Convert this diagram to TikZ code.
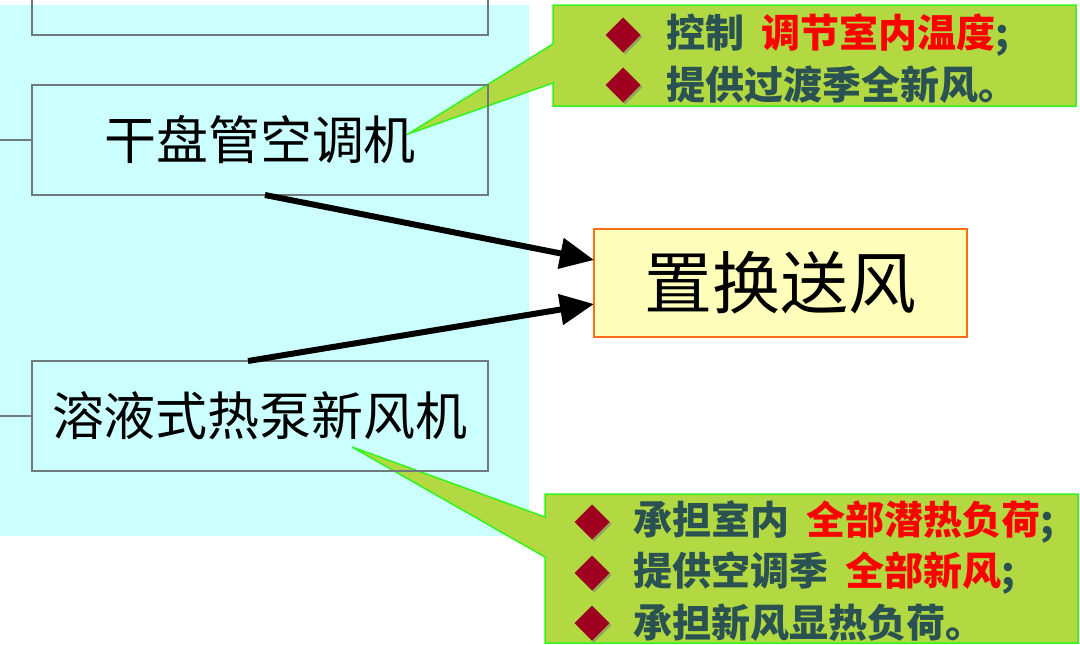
\documentclass[tikz,border=0pt]{standalone}
\usepackage{fontspec}
\usepackage{xcolor}
\newfontfamily\cjk{Noto Sans CJK SC}
\usetikzlibrary{shapes.geometric,arrows.meta,positioning,calc,shadows}
\definecolor{bgcyan}{RGB}{204,255,255}
\definecolor{boxgray}{RGB}{112,122,122}
\definecolor{notefill}{RGB}{179,217,66}
\definecolor{noteline}{RGB}{50,245,30}
\definecolor{notetxt}{RGB}{42,82,82}
\definecolor{hotred}{RGB}{255,0,0}
\definecolor{bulletred}{RGB}{160,0,32}
\definecolor{zsfill}{RGB}{255,255,187}
\definecolor{zsline}{RGB}{255,110,20}

\begin{document}
\begin{tikzpicture}[x=1pt, y=-1pt, outer sep=0pt,
    unitbox/.style={rectangle, draw=boxgray, line width=1.2pt, minimum width=456pt, minimum height=110pt, inner sep=0pt},
    notebox/.style={draw=noteline, line width=1.5pt, fill=notefill},
    bulletmark/.style={diamond, fill=bulletred, minimum width=35pt, minimum height=35pt, inner sep=0pt, drop shadow={shadow xshift=2pt, shadow yshift=-2pt, fill=black!55}},
    notetext/.style={anchor=west, inner sep=0pt, text=notetxt, font=\cjk\bfseries\fontsize{39}{41}\selectfont},
    flow/.style={-{Triangle[length=34pt, width=30pt]}, line width=6pt}]
        \useasboundingbox (0,0) rectangle (1080,645);
        \clip (0,0) rectangle (1080,645);
        \fill[white] (0,0) rectangle (1080,645);
        \fill[bgcyan] (0,5) rectangle (529,536);

        \coordinate (t1) at (408,134);
        \coordinate (t2) at (352,447);
        \draw[notebox] (553,5) -- (1076,5) -- (1076,106) -- (553,106) -- (553,83) -- (t1) -- (553,44) -- cycle;
        \draw[notebox] (545,494) -- (1078,494) -- (1078,643) -- (545,643) -- (545,557) -- (t2) -- (545,517) -- cycle;

        \node (b0) [unitbox] at (260,-20) {};
        \node (b1) [unitbox, font=\cjk\fontsize{52}{56}\selectfont] at (260,140) {干盘管空调机};
        \node (b2) [unitbox, font=\cjk\fontsize{52}{56}\selectfont] at (260,416) {溶液式热泵新风机};
        \node (zs) [rectangle, draw=zsline, line width=1.5pt, fill=zsfill, minimum width=373pt, minimum height=108pt, font=\cjk\fontsize{68}{72}\selectfont] at (780.5,283) {置换送风};

        \coordinate (s1) at (0,140);
        \coordinate (s2) at (0,416);
        \draw[boxgray, line width=1.2pt] (s1) -- (b1.west);
        \draw[boxgray, line width=1.2pt] (s2) -- (b2.west);

        \draw[flow] ([xshift=5pt]b1.south) -- ([yshift=23pt]zs.west);
        \draw[flow] ([xshift=-12pt]b2.north) -- ([yshift=-21pt]zs.west);

        \node (m1) [bulletmark] at (623,35) {};
        \node (n1) [notetext] at (666,35) {控制\hspace{0.45em}\textcolor{hotred}{调节室内温度};};
        \node (m2) [bulletmark] at (623,85) {};
        \node (n2) [notetext] at (666,85) {提供过渡季全新风。};
        \node (m3) [bulletmark] at (592,522) {};
        \node (n3) [notetext] at (633,522) {承担室内\hspace{0.45em}\textcolor{hotred}{全部潜热负荷};};
        \node (m4) [bulletmark] at (592,573) {};
        \node (n4) [notetext] at (633,573) {提供空调季\hspace{0.45em}\textcolor{hotred}{全部新风};};
        \node (m5) [bulletmark] at (592,623) {};
        \node (n5) [notetext] at (633,623) {承担新风显热负荷。};
    \end{tikzpicture}
\end{document}
